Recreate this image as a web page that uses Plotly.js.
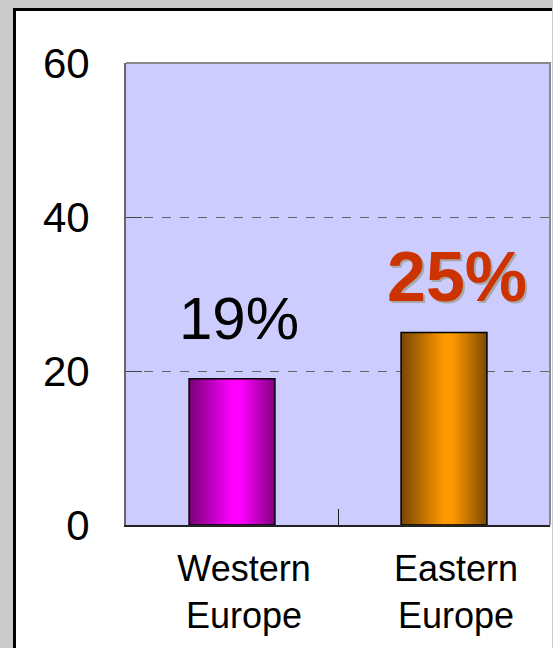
<!DOCTYPE html>
<html>
<head>
<meta charset="utf-8">
<script src="https://cdn.plot.ly/plotly-3.0.1.min.js"></script>
<style>
  html, body { margin: 0; padding: 0; }
  body { width: 553px; height: 648px; background: #cbcbcb; overflow: hidden; position: relative; }
  #frame {
    position: absolute; left: 13px; top: 8px;
    border-left: 3px solid #000; border-top: 3px solid #000;
    background: #fff;
  }
</style>
</head>
<body>
<div id="frame"><div id="chart"></div></div>
<script>
// Share of respondents by region
const regions = ['Western<br>Europe', 'Eastern<br>Europe'];
const shares = [19, 25];
const shareLabels = ['19%', '25%'];
const yTicks = [0, 20, 40, 60];

const FONT = 'Arial, "Liberation Sans", sans-serif';

const trace = {
  type: 'bar',
  x: regions,
  y: shares,
  width: 0.405,
  marker: {
    color: ['#ff00ff', '#ff9900'],
    line: { color: '#000', width: 1.5 }
  },
  hoverinfo: 'skip'
};

const layout = {
  width: 536,
  height: 637,
  margin: { l: 110, r: 2, t: 52, b: 123 },
  paper_bgcolor: '#ffffff',
  plot_bgcolor: '#ccccff',
  showlegend: false,
  font: { family: FONT, color: '#000' },
  xaxis: {
    type: 'category',
    tickson: 'boundaries',
    ticks: 'inside',
    ticklen: 16,
    tickwidth: 1,
    tickcolor: '#222',
    showline: true,
    linecolor: '#222',
    linewidth: 2,
    showgrid: false,
    tickfont: { family: FONT, size: 36, color: '#000' },
    ticklabelstandoff: 11,
    ticklabelshift: 12
  },
  yaxis: {
    range: [0, 60],
    tickvals: yTicks,
    ticktext: yTicks.map(String),
    ticks: 'inside',
    ticklen: 16,
    tickwidth: 1,
    tickcolor: '#444',
    showline: true,
    linecolor: '#666',
    linewidth: 2,
    showgrid: true,
    gridcolor: '#666',
    gridwidth: 1,
    griddash: '9px,9px',
    zeroline: false,
    tickfont: { family: FONT, size: 42, color: '#000' },
    ticklabelstandoff: 26
  },
  shapes: [
    {
      type: 'path', xref: 'paper', yref: 'paper',
      path: 'M 0 1 L 1 1 L 1 0',
      line: { color: '#8a8a8a', width: 2 }
    }
  ],
  annotations: [
    {
      x: regions[0], y: shares[0], xref: 'x', yref: 'y',
      text: shareLabels[0], showarrow: false,
      xanchor: 'center', yanchor: 'bottom',
      xshift: 7, yshift: 25,
      font: { family: FONT, size: 60, color: '#000' }
    },
    {
      x: regions[1], y: shares[1], xref: 'x', yref: 'y',
      text: '<b>' + shareLabels[1] + '</b>', showarrow: false,
      xanchor: 'center', yanchor: 'bottom',
      xshift: 13, yshift: 15,
      font: { family: FONT, size: 70, color: '#cc3300', shadow: '2px 2px 0px #a8a8a8' }
    }
  ]
};

// Cylinder-style shading across each bar
const gradients = [
  { id: 'barShadeW', edge: '#760076', mid: '#ff00ff', edge2: '#800080' },
  { id: 'barShadeE', edge: '#774600', mid: '#ff9900', edge2: '#7c4a00' }
];

function applyShading(gd) {
  const svg = gd.querySelector('svg.main-svg');
  let defs = svg.querySelector('defs');
  const NS = 'http://www.w3.org/2000/svg';
  gradients.forEach(g => {
    const lg = document.createElementNS(NS, 'linearGradient');
    lg.setAttribute('id', g.id);
    lg.setAttribute('x1', '0'); lg.setAttribute('y1', '0');
    lg.setAttribute('x2', '1'); lg.setAttribute('y2', '0');
    [[0, g.edge], [0.5, g.mid], [0.6, g.mid], [1, g.edge2]].forEach(([o, c]) => {
      const s = document.createElementNS(NS, 'stop');
      s.setAttribute('offset', o);
      s.setAttribute('stop-color', c);
      lg.appendChild(s);
    });
    defs.appendChild(lg);
  });
  const bars = gd.querySelectorAll('.barlayer .point path');
  bars.forEach((p, i) => { p.style.fill = 'url(#' + gradients[i % gradients.length].id + ')'; });
}

Plotly.newPlot('chart', [trace], layout, { displayModeBar: false, staticPlot: true })
  .then(applyShading);
</script>
</body>
</html>
